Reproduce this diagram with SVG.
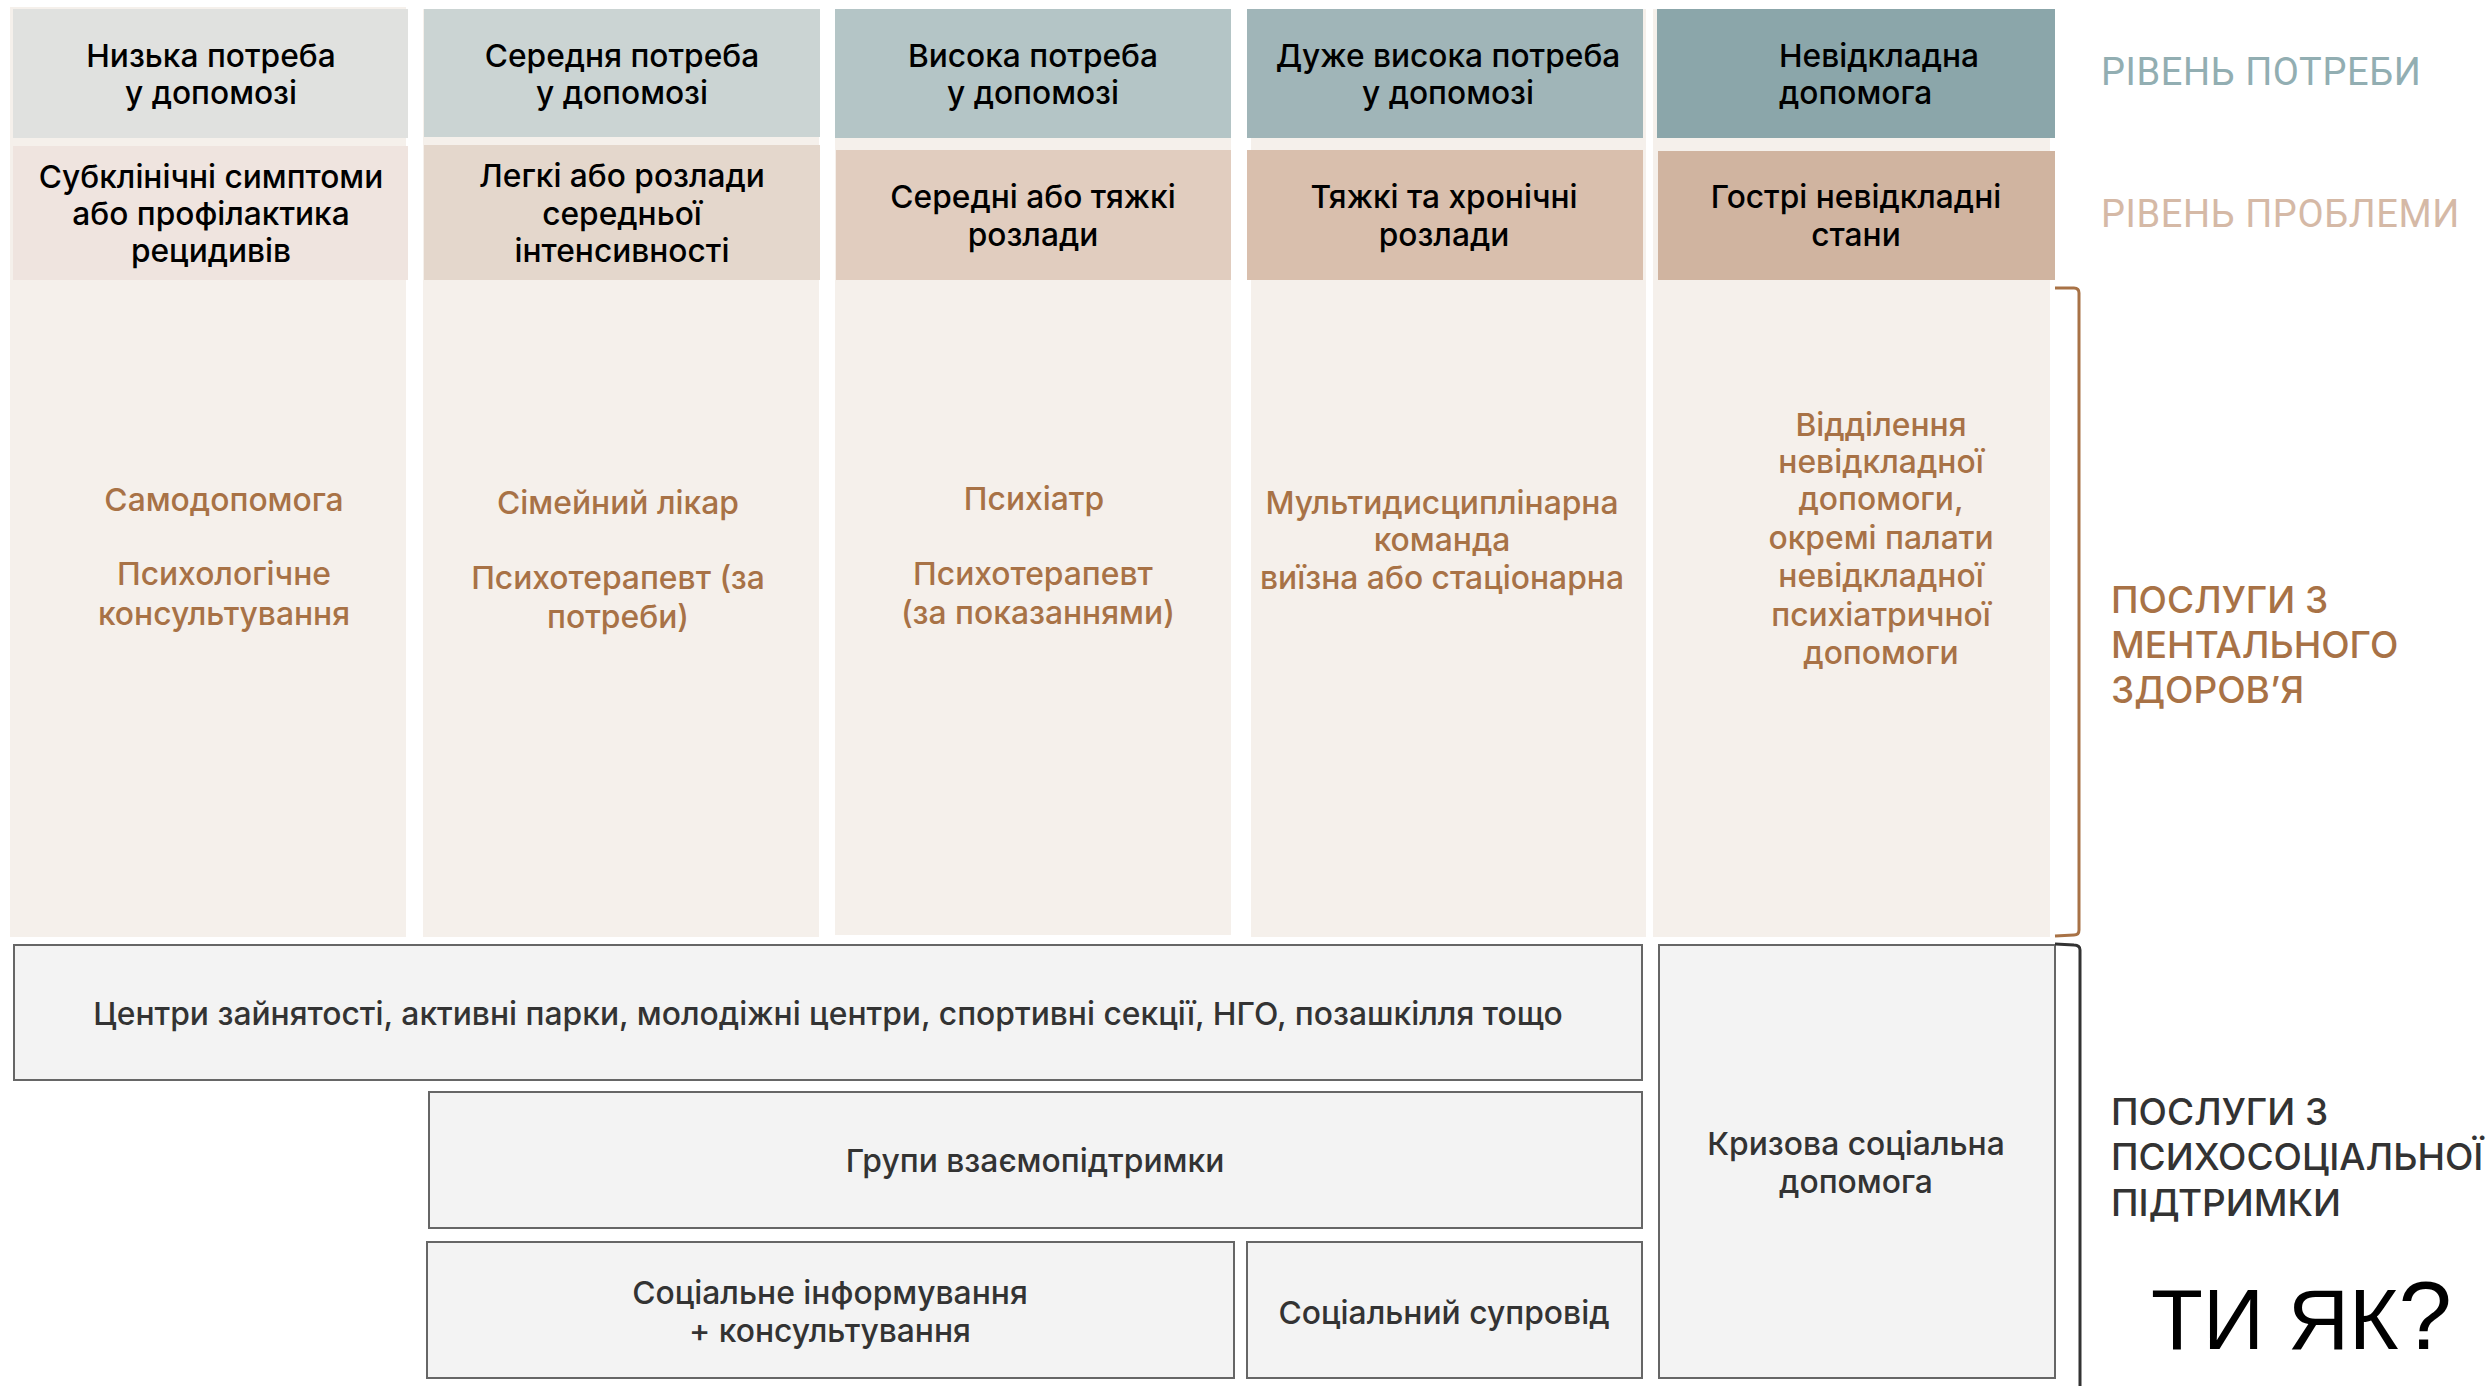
<svg xmlns="http://www.w3.org/2000/svg" width="2488" height="1386" viewBox="0 0 2488 1386">
<style>
text{font-family:Inter,"Liberation Sans",sans-serif;text-anchor:middle}
.k{font-size:31.7px;font-weight:500;fill:#000}
.o{font-size:31.8px;font-weight:500;fill:#a87246}
.g{font-size:31.8px;font-weight:500;fill:#333}
.l{font-size:37px;font-weight:500;text-anchor:start}
.r{font-family:Roboto,"Liberation Sans",sans-serif;font-size:38px;letter-spacing:.6px;text-anchor:start}
.bg{fill:#f5f0eb}
.box{fill:#f3f3f3;stroke:#666;stroke-width:2}
.br{fill:none;stroke-width:3}
</style>
<rect x="0" y="0" width="2488" height="1386" fill="#fff"/>
<g id="col1"><rect class="bg" x="10" y="7" width="396" height="930"/><rect x="13" y="9" width="395" height="129" fill="#e0e1df"/><rect x="13" y="146" width="395" height="134" fill="#efe4df"/>
<text class="k"><tspan x="211" y="67">Низька потреба</tspan><tspan x="211" y="104">у допомозі</tspan></text>
<text class="k"><tspan x="211" y="188">Субклінічні симптоми</tspan><tspan x="211" y="225">або профілактика</tspan><tspan x="211" y="262">рецидивів</tspan></text>
<text class="o"><tspan x="224" y="511">Самодопомога</tspan><tspan x="224" y="585">Психологічне</tspan><tspan x="224" y="625">консультування</tspan></text></g>
<g id="col2"><rect class="bg" x="423" y="9" width="396" height="928"/><rect x="424" y="9" width="396" height="128" fill="#cbd4d3"/><rect x="424" y="145" width="396" height="135" fill="#e4d7cc"/>
<text class="k"><tspan x="622" y="67">Середня потреба</tspan><tspan x="622" y="104">у допомозі</tspan></text>
<text class="k"><tspan x="622" y="187">Легкі або розлади</tspan><tspan x="622" y="225">середньої</tspan><tspan x="622" y="262">інтенсивності</tspan></text>
<text class="o"><tspan x="618" y="514">Сімейний лікар</tspan><tspan x="618" y="589">Психотерапевт (за</tspan><tspan x="618" y="628">потреби)</tspan></text></g>
<g id="col3"><rect class="bg" x="835" y="9" width="396" height="926"/><rect x="835" y="9" width="396" height="129" fill="#b4c5c6"/><rect x="836" y="150" width="395" height="130" fill="#e1cdbf"/>
<text class="k"><tspan x="1033" y="67">Висока потреба</tspan><tspan x="1033" y="104">у допомозі</tspan></text>
<text class="k"><tspan x="1033" y="208">Середні або тяжкі</tspan><tspan x="1033" y="246">розлади</tspan></text>
<text class="o"><tspan x="1034" y="510">Психіатр</tspan><tspan x="1033" y="585">Психотерапевт</tspan><tspan x="1038" y="624">(за показаннями)</tspan></text></g>
<g id="col4"><rect class="bg" x="1251" y="9" width="395" height="928"/><rect x="1247" y="9" width="396" height="129" fill="#a0b5b8"/><rect x="1247" y="150" width="396" height="130" fill="#d9bfad"/>
<text class="k"><tspan x="1448" y="67">Дуже висока потреба</tspan><tspan x="1448" y="104">у допомозі</tspan></text>
<text class="k"><tspan x="1444" y="208">Тяжкі та хронічні</tspan><tspan x="1444" y="246">розлади</tspan></text>
<text class="o"><tspan x="1442" y="514">Мультидисциплінарна</tspan><tspan x="1442" y="551">команда</tspan><tspan x="1442" y="589">виїзна або стаціонарна</tspan></text></g>
<g id="col5"><rect class="bg" x="1653" y="9" width="397" height="928"/><rect x="1657" y="9" width="398" height="129" fill="#8ba6aa"/><rect x="1658" y="151" width="397" height="129" fill="#d0b4a0"/>
<text class="k" style="text-anchor:start"><tspan x="1779" y="67">Невідкладна</tspan><tspan x="1779" y="104">допомога</tspan></text>
<text class="k"><tspan x="1856" y="208">Гострі невідкладні</tspan><tspan x="1856" y="246">стани</tspan></text>
<text class="o"><tspan x="1881" y="436">Відділення</tspan><tspan x="1881" y="473">невідкладної</tspan><tspan x="1881" y="510">допомоги,</tspan><tspan x="1881" y="549">окремі палати</tspan><tspan x="1881" y="587">невідкладної</tspan><tspan x="1881" y="626">психіатричної</tspan><tspan x="1881" y="664">допомоги</tspan></text></g>
<g id="box-a"><rect class="box" x="14" y="945" width="1628" height="135"/><text class="g" x="828" y="1025">Центри зайнятості, активні парки, молодіжні центри, спортивні секції, НГО, позашкілля тощо</text></g>
<g id="box-b"><rect class="box" x="429" y="1092" width="1213" height="136"/><text class="g" x="1035" y="1172">Групи взаємопідтримки</text></g>
<g id="box-c"><rect class="box" x="427" y="1242" width="807" height="136"/><text class="g"><tspan x="830" y="1304">Соціальне інформування</tspan><tspan x="830" y="1342">+ консультування</tspan></text></g>
<g id="box-d"><rect class="box" x="1247" y="1242" width="395" height="136"/><text class="g" x="1444" y="1324">Соціальний супровід</text></g>
<g id="box-e"><rect class="box" x="1659" y="945" width="396" height="433"/><text class="g"><tspan x="1856" y="1155">Кризова соціальна</tspan><tspan x="1856" y="1193">допомога</tspan></text></g>
<g id="brackets"><path class="br" stroke="#a87246" d="M2055 288H2074Q2079 288 2079 293V930Q2079 935 2074 935L2055 936"/>
<path class="br" stroke="#333" d="M2055 944L2074 945Q2080 945 2080 950V1386"/></g>
<g id="labels">
<text class="r" x="2101" y="85" fill="#92aeb2">РІВЕНЬ ПОТРЕБИ</text>
<text class="r" x="2101" y="227" fill="#d5b9a6">РІВЕНЬ ПРОБЛЕМИ</text>
<text class="l" fill="#a87246"><tspan x="2111" y="613">ПОСЛУГИ З</tspan><tspan x="2111" y="658">МЕНТАЛЬНОГО</tspan><tspan x="2111" y="703">ЗДОРОВ’Я</tspan></text>
<text class="l" fill="#333"><tspan x="2111" y="1125">ПОСЛУГИ З</tspan><tspan x="2111" y="1170">ПСИХОСОЦІАЛЬНОЇ</tspan><tspan x="2111" y="1216">ПІДТРИМКИ</tspan></text>
<text x="2151" y="1349" font-size="85" style="text-anchor:start;font-family:'Liberation Sans',sans-serif" fill="#000">ТИ ЯК<tspan font-size="96">?</tspan></text>
</g>
</svg>
